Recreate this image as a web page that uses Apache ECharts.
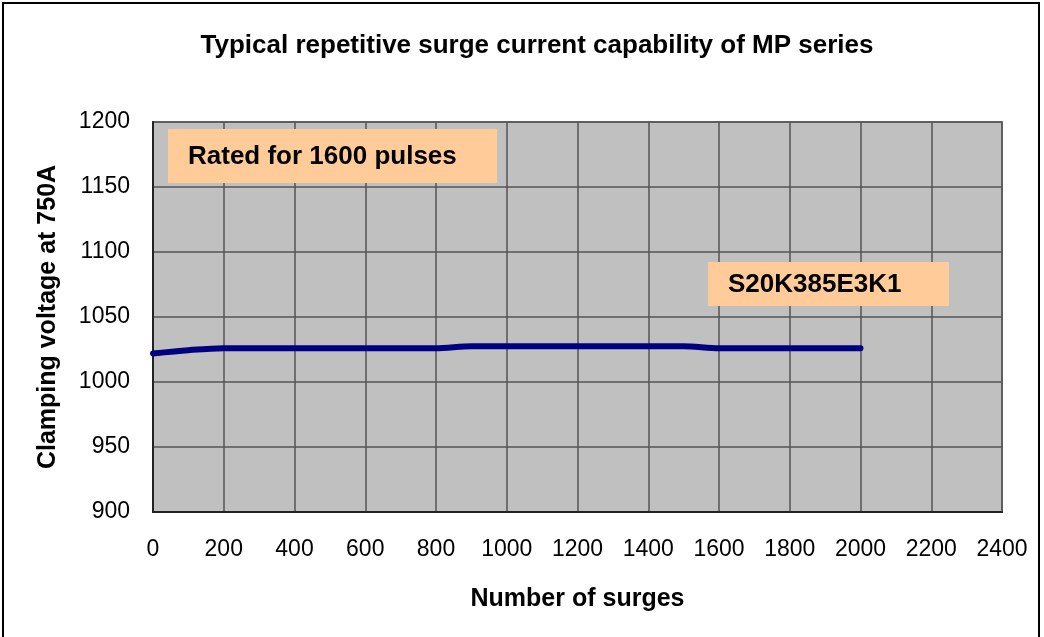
<!DOCTYPE html>
<html>
<head>
<meta charset="utf-8">
<title>Surge capability</title>
<script src="https://cdn.jsdelivr.net/npm/echarts@6/dist/echarts.min.js"></script>
<style>
html,body{margin:0;padding:0;background:#fff;}
#main{width:1044px;height:637px;}
</style>
</head>
<body>
<div id="main"></div>
<script>
// number of surges vs clamping voltage
var surges = [0, 100, 200, 400, 600, 800, 900, 1000, 1200, 1400, 1500, 1600, 1800, 2000];
var voltage = [1022, 1024.5, 1026, 1026, 1026, 1026, 1027.5, 1027.5, 1027.5, 1027.5, 1027.5, 1026, 1026, 1026];
var seriesName = 'S20K385E3K1';
var noteText = 'Rated for 1600 pulses';

var points = [];
for (var i = 0; i < surges.length; i++) {
	points.push([surges[i], voltage[i]]);
}

var chart = echarts.init(document.getElementById('main'));
var font = 'Liberation Sans, Arial, sans-serif';
var plain = function (v) { return String(v); };
chart.setOption({
	animation: false,
	title: {
		text: 'Typical repetitive surge current capability of MP series',
		left: 532,
		top: 28,
		textAlign: 'center',
		textStyle: {fontFamily: font, fontSize: 26, fontWeight: 'bold', color: '#000'}
	},
	grid: {
		left: 153, right: 42, top: 122, bottom: 125,
		show: true,
		backgroundColor: '#c0c0c0',
		borderColor: '#808080',
		borderWidth: 2
	},
	xAxis: {
		type: 'value',
		min: 0, max: 2400, interval: 200,
		name: 'Number of surges',
		nameLocation: 'middle',
		nameGap: 75,
		nameTextStyle: {fontFamily: font, fontSize: 25, fontWeight: 'bold', color: '#000'},
		axisLine: {lineStyle: {color: '#222', width: 2}},
		axisTick: {show: false},
		axisLabel: {fontFamily: font, fontSize: 23, color: '#000', margin: 26, formatter: plain},
		splitLine: {show: true, lineStyle: {color: '#555', width: 1.5}}
	},
	yAxis: {
		type: 'value',
		min: 900, max: 1200, interval: 50,
		name: 'Clamping voltage at 750A',
		nameLocation: 'middle',
		nameGap: 92,
		nameTextStyle: {fontFamily: font, fontSize: 25, fontWeight: 'bold', color: '#000'},
		axisLine: {show: true, lineStyle: {color: '#222', width: 2}},
		axisTick: {show: false},
		axisLabel: {fontFamily: font, fontSize: 23, color: '#000', margin: 23, formatter: plain},
		splitLine: {show: true, lineStyle: {color: '#555', width: 1.5}}
	},
	series: [{
		name: seriesName,
		type: 'line',
		data: points,
		smooth: 0.3,
		showSymbol: false,
		lineStyle: {color: '#000080', width: 6, cap: 'round'}
	}],
	graphic: [
		{type: 'rect', shape: {x: 3, y: 3, width: 1036, height: 640},
			style: {fill: 'none', stroke: '#000', lineWidth: 2}, silent: true},
		{type: 'rect', shape: {x: 168, y: 129, width: 329, height: 54},
			style: {fill: '#ffcc99'}, z: 10},
		{type: 'text', x: 188, y: 157, z: 11,
			style: {text: noteText, font: 'bold 26px Liberation Sans, Arial, sans-serif', fill: '#000', textVerticalAlign: 'middle'}},
		{type: 'rect', shape: {x: 708, y: 262, width: 241, height: 44},
			style: {fill: '#ffcc99'}, z: 10},
		{type: 'text', x: 728, y: 285, z: 11,
			style: {text: seriesName, font: 'bold 26px Liberation Sans, Arial, sans-serif', fill: '#000', textVerticalAlign: 'middle'}}
	]
});
</script>
</body>
</html>
